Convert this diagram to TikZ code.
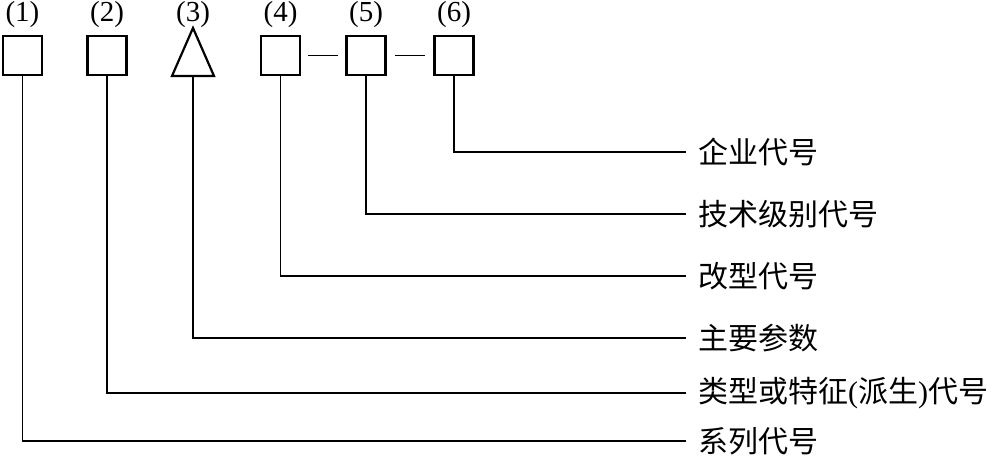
\documentclass[tikz,border=0pt]{standalone}
\usepackage{fontspec}
\setmainfont{Liberation Serif}
\newfontfamily\cjk{Noto Sans CJK SC}
\usetikzlibrary{positioning}
\tikzset{
  codebox/.style={draw, line width=2.2pt, minimum size=39pt, inner sep=0pt},
  numlabel/.style={font=\fontsize{29}{30}\selectfont, inner sep=0pt},
  meaning/.style={anchor=west, font=\fontsize{30}{34}\selectfont\cjk, inner xsep=12pt, inner ysep=0pt},
  leader/.style={line width=1.8pt},
  joiner/.style={line width=1.4pt}
}
\begin{document}
\begin{tikzpicture}[x=1pt,y=-1pt]
  \useasboundingbox (0,0) rectangle (1004,457);
  % the code positions
  \node[codebox] (b1) at (22.5,55.5) {};
  \node[codebox] (b2) at (107,55.5) {};
  \coordinate (b3) at (193,76);
  \draw[line width=2.2pt, line join=miter] (b3) ++(-21,0) -- ++(21,-48) -- ++(21,48) -- cycle;
  \node[codebox] (b4) at (280.5,55.5) {};
  \node[codebox] (b5) at (366,55.5) {};
  \node[codebox] (b6) at (454,55.5) {};
  % numbers on top
  \node[numlabel] (n1) at (22.5,15) {(1)};
  \node[numlabel] (n2) at (107,15) {(2)};
  \node[numlabel] (n3) at (193,15) {(3)};
  \node[numlabel] (n4) at (280.5,15) {(4)};
  \node[numlabel] (n5) at (366,15) {(5)};
  \node[numlabel] (n6) at (454,15) {(6)};
  % dashes between the last three
  \draw[joiner, shorten <=7pt, shorten >=7pt] (b4) -- (b5);
  \draw[joiner, shorten <=8pt, shorten >=8pt] (b5) -- (b6);
  % what each position means
  \node[meaning] (m6) at (686,152) {企业代号};
  \node[meaning] (m5) at (686,214) {技术级别代号};
  \node[meaning] (m4) at (686,276) {改型代号};
  \node[meaning] (m3) at (686,338) {主要参数};
  \node[meaning] (m2) at (686,393) {类型或特征{\rmfamily(}派生{\rmfamily)}代号};
  \node[meaning] (m1) at (686,441) {系列代号};
  \draw[leader] (b6.south) |- (m6.west);
  \draw[leader] (b5.south) |- (m5.west);
  \draw[leader] (b4.south) |- (m4.west);
  \draw[leader] (b3) |- (m3.west);
  \draw[leader] (b2.south) |- (m2.west);
  \draw[leader] (b1.south) |- (m1.west);
\end{tikzpicture}
\end{document}
